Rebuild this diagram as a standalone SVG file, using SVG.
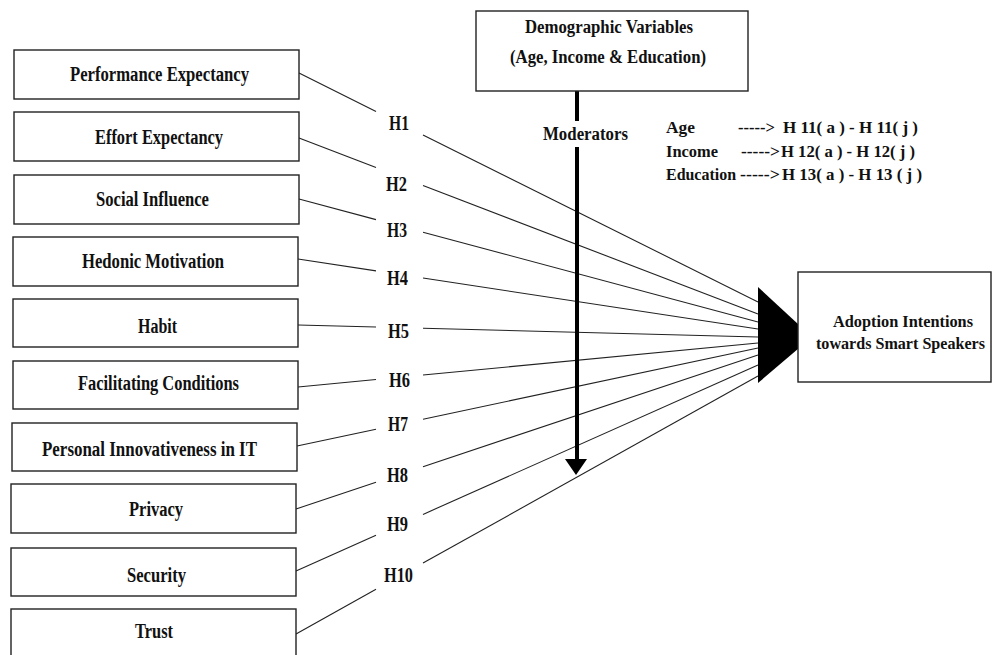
<svg xmlns="http://www.w3.org/2000/svg" width="992" height="655" viewBox="0 0 992 655">
<style>
.box{fill:#fff;stroke:#222;stroke-width:1.4}
text{font-family:"Liberation Serif","Times New Roman",serif;font-weight:bold;fill:#111}
.t{font-size:20px}
.h{font-size:20px}
.s{font-size:18px}
.l{font-size:16.5px}
.c line{stroke:#222;stroke-width:1.1}
</style>
<rect width="992" height="655" fill="#fff"/>
<g id="connectors" class="c">
<line x1="299" y1="73" x2="376" y2="111.4"/><line x1="423" y1="134.9" x2="758" y2="302"/>
<line x1="299" y1="138" x2="376" y2="167.5"/><line x1="423" y1="185.5" x2="758" y2="314"/>
<line x1="299" y1="199" x2="376" y2="219.6"/><line x1="423" y1="232.2" x2="758" y2="322"/>
<line x1="298" y1="259" x2="376" y2="270.9"/><line x1="423" y1="278" x2="758" y2="329"/>
<line x1="298" y1="325" x2="376" y2="327"/><line x1="423" y1="328.3" x2="758" y2="337"/>
<line x1="298" y1="387" x2="376" y2="379.5"/><line x1="423" y1="375" x2="758" y2="343"/>
<line x1="297" y1="446" x2="376" y2="429.2"/><line x1="423" y1="419.2" x2="758" y2="348"/>
<line x1="296" y1="509" x2="376" y2="482.3"/><line x1="423" y1="466.7" x2="758" y2="355"/>
<line x1="296" y1="571" x2="376" y2="535.3"/><line x1="423" y1="514.4" x2="758" y2="365"/>
<line x1="296" y1="634" x2="376" y2="589.3"/><line x1="423" y1="563.1" x2="758" y2="376"/>
<polygon points="758,287 812,337 758,383" fill="#000"/>
<line x1="577" y1="91" x2="577" y2="121" style="stroke:#000;stroke-width:4"/>
<line x1="577" y1="147" x2="577" y2="462" style="stroke:#000;stroke-width:4"/>
<polygon points="565,459 587,459 576,475" fill="#000"/>
<text class="h" x="389" y="130" textLength="20" lengthAdjust="spacingAndGlyphs">H1</text>
<text class="h" x="386" y="191" textLength="21" lengthAdjust="spacingAndGlyphs">H2</text>
<text class="h" x="387" y="237" textLength="20" lengthAdjust="spacingAndGlyphs">H3</text>
<text class="h" x="387" y="285" textLength="21" lengthAdjust="spacingAndGlyphs">H4</text>
<text class="h" x="388" y="338" textLength="21" lengthAdjust="spacingAndGlyphs">H5</text>
<text class="h" x="389" y="387" textLength="21" lengthAdjust="spacingAndGlyphs">H6</text>
<text class="h" x="388" y="431" textLength="20" lengthAdjust="spacingAndGlyphs">H7</text>
<text class="h" x="387" y="482" textLength="21" lengthAdjust="spacingAndGlyphs">H8</text>
<text class="h" x="387" y="531" textLength="21" lengthAdjust="spacingAndGlyphs">H9</text>
<text class="h" x="384" y="582" textLength="29" lengthAdjust="spacingAndGlyphs">H10</text>
<text class="s" x="543" y="140" textLength="85" lengthAdjust="spacingAndGlyphs">Moderators</text>
</g>
<g id="n1"><rect class="box" x="14" y="50" width="285" height="49"/><text class="t" x="70" y="81" textLength="179" lengthAdjust="spacingAndGlyphs">Performance Expectancy</text></g>
<g id="n2"><rect class="box" x="14" y="112" width="285" height="49"/><text class="t" x="95" y="144" textLength="128" lengthAdjust="spacingAndGlyphs">Effort Expectancy</text></g>
<g id="n3"><rect class="box" x="14" y="175" width="285" height="49"/><text class="t" x="96" y="206" textLength="113" lengthAdjust="spacingAndGlyphs">Social Influence</text></g>
<g id="n4"><rect class="box" x="13" y="237" width="285" height="49"/><text class="t" x="82" y="268" textLength="142" lengthAdjust="spacingAndGlyphs">Hedonic Motivation</text></g>
<g id="n5"><rect class="box" x="13" y="299" width="285" height="48"/><text class="t" x="138" y="333" textLength="39" lengthAdjust="spacingAndGlyphs">Habit</text></g>
<g id="n6"><rect class="box" x="13" y="361" width="285" height="48"/><text class="t" x="78" y="390" textLength="161" lengthAdjust="spacingAndGlyphs">Facilitating Conditions</text></g>
<g id="n7"><rect class="box" x="12" y="423" width="285" height="48"/><text class="t" x="42" y="456" textLength="215" lengthAdjust="spacingAndGlyphs">Personal Innovativeness in IT</text></g>
<g id="n8"><rect class="box" x="11" y="484" width="285" height="49"/><text class="t" x="129" y="516" textLength="54" lengthAdjust="spacingAndGlyphs">Privacy</text></g>
<g id="n9"><rect class="box" x="11" y="548" width="285" height="48"/><text class="t" x="127" y="582" textLength="59" lengthAdjust="spacingAndGlyphs">Security</text></g>
<g id="n10"><rect class="box" x="11" y="609" width="285" height="60"/><text class="t" x="135" y="638" textLength="38" lengthAdjust="spacingAndGlyphs">Trust</text></g>
<g id="demographic"><rect class="box" x="476" y="11" width="272" height="80"/>
<text class="s" x="525" y="33" textLength="168" lengthAdjust="spacingAndGlyphs">Demographic Variables</text>
<text class="s" x="510" y="63" textLength="196" lengthAdjust="spacingAndGlyphs">(Age, Income &amp; Education)</text></g>
<g id="adoption"><rect class="box" x="798" y="272" width="193" height="110"/>
<text class="l" x="833" y="327" textLength="140" lengthAdjust="spacingAndGlyphs">Adoption Intentions</text>
<text class="l" x="816" y="349" textLength="169" lengthAdjust="spacingAndGlyphs">towards Smart Speakers</text></g>
<g id="legend">
<text class="l" x="666" y="133" textLength="29" lengthAdjust="spacingAndGlyphs">Age</text>
<text class="l" x="738" y="133" textLength="37" lengthAdjust="spacingAndGlyphs">-----&gt;</text>
<text class="l" x="783" y="133" textLength="135" lengthAdjust="spacingAndGlyphs">H 11( a ) - H 11( j )</text>
<text class="l" x="666" y="157" textLength="52" lengthAdjust="spacingAndGlyphs">Income</text>
<text class="l" x="741" y="157" textLength="39" lengthAdjust="spacingAndGlyphs">-----&gt;</text>
<text class="l" x="781" y="157" textLength="134" lengthAdjust="spacingAndGlyphs">H 12( a ) - H 12( j )</text>
<text class="l" x="666" y="180" textLength="70" lengthAdjust="spacingAndGlyphs">Education</text>
<text class="l" x="740" y="180" textLength="40" lengthAdjust="spacingAndGlyphs">-----&gt;</text>
<text class="l" x="782" y="180" textLength="140" lengthAdjust="spacingAndGlyphs">H 13( a ) - H 13 ( j )</text>
</g>
</svg>
